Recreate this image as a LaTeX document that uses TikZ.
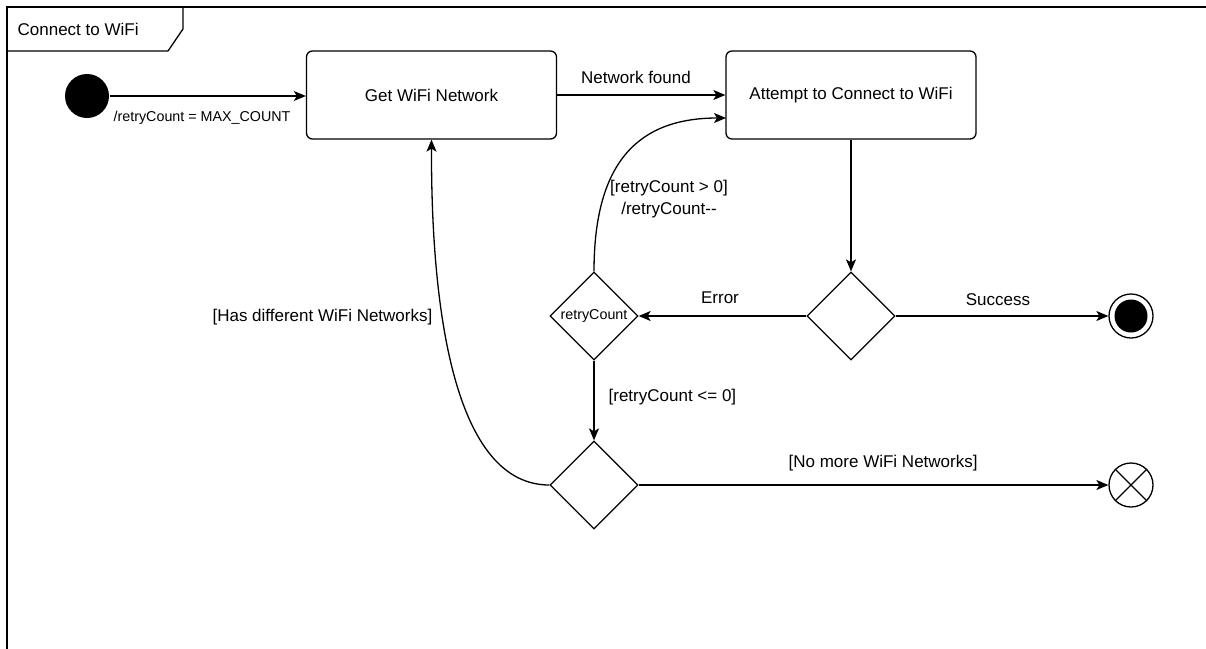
\documentclass[tikz,border=0pt]{standalone}
\usepackage{fontspec}
\setmainfont{Liberation Sans}
\usetikzlibrary{shapes.geometric,arrows.meta}
\begin{document}
\begin{tikzpicture}[x=1pt,y=-1pt, line width=1.3pt,
  every node/.style={font=\fontsize{17}{22}\selectfont},
  state/.style={draw, rounded corners=6pt, minimum width=250pt, minimum height=88pt, inner sep=0pt},
  choice/.style={draw, diamond, aspect=1, minimum width=88pt, minimum height=88pt, inner sep=0pt},
  small/.style={font=\fontsize{14.3}{17}\selectfont},
  flow/.style={-{Stealth[length=12pt,width=10pt,inset=3pt]}},
  lbl/.style={inner sep=0pt}]
\useasboundingbox (0,0) rectangle (1206,648);
\clip (0,0) rectangle (1206,648);

% frame with its name tab
\draw (7,7) rectangle (1230,670);
\draw (7,51) -- (168,51) -- (183,29) -- (183,7);
\node[lbl, anchor=west] (title) at (17,29) {Connect to WiFi};

% states
\node[circle, fill, minimum size=44pt, inner sep=0pt] (init) at (87,96) {};
\node[state] (get) at (431.5,95) {Get WiFi Network};
\node[state] (try) at (851,95) {Attempt to Connect to WiFi};

% choices
\node[choice] (d1) at (851,316) {};
\node[choice, small] (rc) at (594,316) {retryCount};
\node[choice] (d3) at (594,485) {};

% final states
\node[circle, draw, minimum size=44pt, inner sep=0pt] (final) at (1131,316) {};
\node[circle, fill, minimum size=33pt, inner sep=0pt] (finaldot) at (final.center) {};
\node[circle, draw, minimum size=44pt, inner sep=0pt] (flowend) at (1131,485) {};
\draw (flowend.45) -- (flowend.225);
\draw (flowend.135) -- (flowend.315);

% transitions
\draw[flow] (init.east) -- (init.east -| get.west);
\node[lbl, small, anchor=west] (initlbl) at (113,118) {/retryCount = MAX\_COUNT};

\draw[flow] (get.east) -- (try.west);
\node[lbl] (foundlbl) at (636,77) {Network found};

\draw[flow] (try.south) -- (d1.north);

\draw[flow] (d1.west) -- (rc.east);
\node[lbl] (errlbl) at (720,298) {Error};

\draw[flow] (d1.east) -- (final.west);
\node[lbl] (oklbl) at (998,300) {Success};

\draw[flow] (rc.south) -- (d3.north);
\node[lbl, anchor=west] (nolbl) at (608,397) {[retryCount <= 0]};

\draw[flow] (d3.east) -- (flowend.west);
\node[lbl, anchor=west] (nomorelbl) at (788,463) {[No more WiFi Networks]};

\draw[flow] (d3.west) .. controls (460,485) and (431,330) .. (get.south);
\node[lbl, anchor=east] (difflbl) at (433,317) {[Has different WiFi Networks]};

\coordinate (tryin) at (726,118);
\draw[flow] (rc.north) .. controls (594,160) and (640,118) .. (tryin);
\node[lbl, align=center] (retrylbl) at (669,199) {[retryCount > 0]\\/retryCount-{}-};
\end{tikzpicture}
\end{document}
